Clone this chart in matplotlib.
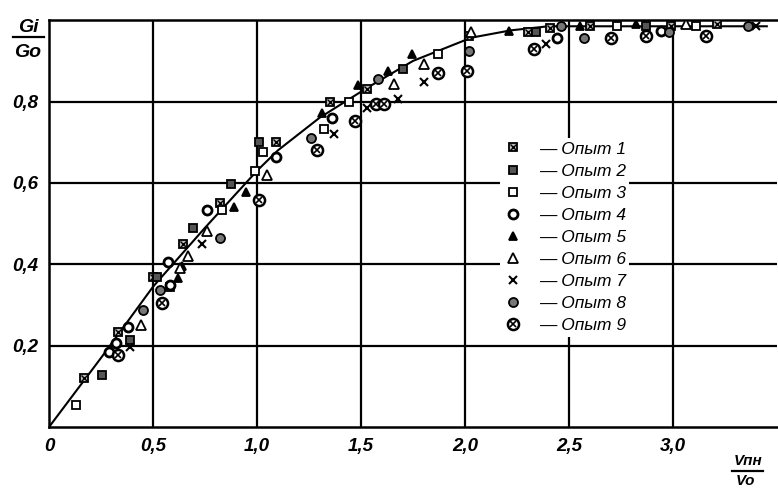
import matplotlib
matplotlib.use("Agg")
import matplotlib.pyplot as plt
from matplotlib.lines import Line2D

# Averaged curve G_i/G_0 versus V_пн/V_0
curve_x = [0.0, 0.25, 0.5, 0.75, 1.0, 1.1, 1.3, 1.53, 1.75, 2.03, 2.22, 2.4, 3.45]
curve_y = [0.0, 0.17, 0.345, 0.49, 0.63, 0.68, 0.76, 0.834, 0.90, 0.957, 0.975, 0.985, 0.985]

# Experimental series (Опыт 1 ... Опыт 9)
x1 = [0.17, 0.33, 0.50, 0.645, 0.82, 1.09, 1.35, 1.53, 2.02, 2.30, 2.41, 2.60, 2.99, 3.21]
y1 = [0.12, 0.233, 0.368, 0.45, 0.55, 0.70, 0.80, 0.832, 0.962, 0.97, 0.98, 0.986, 0.986, 0.99]

x2 = [0.255, 0.39, 0.52, 0.69, 0.875, 1.01, 1.70, 2.34, 2.87]
y2 = [0.128, 0.215, 0.368, 0.488, 0.597, 0.70, 0.88, 0.97, 0.986]

x3 = [0.13, 0.58, 0.83, 0.99, 1.03, 1.32, 1.44, 1.87, 2.73, 3.11]
y3 = [0.054, 0.343, 0.533, 0.63, 0.675, 0.733, 0.80, 0.918, 0.986, 0.986]

x4 = [0.29, 0.32, 0.38, 0.57, 0.58, 0.76, 1.09, 1.36, 2.44, 2.94]
y4 = [0.184, 0.206, 0.245, 0.405, 0.348, 0.533, 0.663, 0.76, 0.957, 0.974]

x5 = [0.62, 0.64, 0.89, 0.945, 1.31, 1.485, 1.63, 1.745, 2.21, 2.55, 2.82]
y5 = [0.366, 0.397, 0.54, 0.577, 0.773, 0.84, 0.876, 0.918, 0.974, 0.986, 0.99]

x6 = [0.44, 0.63, 0.67, 0.76, 1.05, 1.66, 1.80, 2.03, 3.06]
y6 = [0.25, 0.39, 0.42, 0.483, 0.62, 0.844, 0.893, 0.97, 0.99]

x7 = [0.39, 0.735, 1.37, 1.53, 1.675, 1.80, 2.39, 3.40]
y7 = [0.196, 0.45, 0.72, 0.785, 0.807, 0.847, 0.942, 0.986]

x8 = [0.45, 0.535, 0.82, 1.26, 1.58, 2.02, 2.46, 2.57, 2.98, 3.36]
y8 = [0.287, 0.336, 0.464, 0.71, 0.856, 0.925, 0.986, 0.957, 0.97, 0.986]

x9 = [0.33, 0.545, 1.01, 1.29, 1.47, 1.57, 1.61, 1.87, 2.01, 2.33, 2.70, 2.87, 3.16]
y9 = [0.177, 0.304, 0.557, 0.68, 0.753, 0.795, 0.795, 0.869, 0.876, 0.93, 0.955, 0.962, 0.962]

series_names = ["Опыт 1", "Опыт 2", "Опыт 3", "Опыт 4", "Опыт 5",
                "Опыт 6", "Опыт 7", "Опыт 8", "Опыт 9"]

x_ticks = [0, 0.5, 1.0, 1.5, 2.0, 2.5, 3.0]
x_tick_labels = ["0", "0,5", "1,0", "1,5", "2,0", "2,5", "3,0"]
y_ticks = [0.2, 0.4, 0.6, 0.8]
y_tick_labels = ["0,2", "0,4", "0,6", "0,8"]

FONT = ["Liberation Sans Narrow", "Liberation Sans", "DejaVu Sans"]
plt.rcParams["font.family"] = FONT

fig = plt.figure(figsize=(7.78, 4.92), dpi=100)
ax = fig.add_axes([0.063, 0.132, 0.936, 0.827])
ax.set_xlim(0, 3.5)
ax.set_ylim(0, 1.0)

# grid and frame
for xv in x_ticks[1:]:
    ax.axvline(xv, color="black", lw=1.6, zorder=1)
for yv in y_ticks:
    ax.axhline(yv, color="black", lw=1.6, zorder=1)
for side in ("left", "bottom", "top"):
    ax.spines[side].set_linewidth(1.8)
ax.spines["right"].set_visible(False)

ax.plot(curve_x, curve_y, color="black", lw=1.5, zorder=2)

ms = 6
def style(marker, face, size=ms, mew=1.3):
    return dict(marker=marker, markersize=size, markerfacecolor=face,
                markeredgecolor="black", markeredgewidth=mew,
                linestyle="none", zorder=3)

s_box = style("s", "#bbbbbb")
s_boxx = style("x", "none", size=4.2, mew=1.0)
s_fsq = style("s", "#555555")
s_osq = style("s", "white")
s_oc = style("o", "white", size=6.5, mew=2.0)
s_ftri = style("^", "black")
s_otri = style("^", "white", size=6.5)
s_x = style("x", "none", size=6, mew=1.5)
s_fc = style("o", "#777777", size=6.5)
s_ocx = style("o", "white", size=8, mew=1.8)
s_ocxx = style("x", "none", size=4.6, mew=1.2)

ax.plot(x1, y1, **s_box); ax.plot(x1, y1, **s_boxx)
ax.plot(x2, y2, **s_fsq)
ax.plot(x3, y3, **s_osq)
ax.plot(x4, y4, **s_oc)
ax.plot(x5, y5, **s_ftri)
ax.plot(x6, y6, **s_otri)
ax.plot(x7, y7, **s_x)
ax.plot(x8, y8, **s_fc)
ax.plot(x9, y9, **s_ocx); ax.plot(x9, y9, **s_ocxx)

def h(*styles):
    lines = tuple(Line2D([], [], **s) for s in styles)
    return lines if len(lines) > 1 else lines[0]

handles = [h(s_box, s_boxx), h(s_fsq), h(s_osq), h(s_oc), h(s_ftri),
           h(s_otri), h(s_x), h(s_fc), h(s_ocx, s_ocxx)]
labels = ["— " + n for n in series_names]
leg = ax.legend(handles, labels, loc="upper left", bbox_to_anchor=(0.608, 0.732),
                frameon=True, facecolor="white", edgecolor="none", framealpha=1,
                handlelength=1.0, handletextpad=1.0, labelspacing=0.4,
                borderpad=0.2, prop=dict(family=FONT, style="italic", size=12.5))
leg.set_zorder(5)

ax.set_xticks(x_ticks)
ax.set_xticklabels(x_tick_labels)
ax.set_yticks(y_ticks)
ax.set_yticklabels(y_tick_labels)
ax.tick_params(length=0, pad=8)
for lab in ax.get_xticklabels() + ax.get_yticklabels():
    lab.set_fontstyle("italic")
    lab.set_fontweight("bold")
    lab.set_fontsize(13.5)
    lab.set_family(FONT)

# axis names as fractions
tp = dict(family=FONT, style="italic", weight="bold", ha="center", va="center")
fig.text(0.036, 0.944, "Gi", fontsize=14, **tp)
fig.text(0.036, 0.893, "Gо", fontsize=14, **tp)
fig.add_artist(Line2D([0.017, 0.057], [0.925, 0.925], color="black", lw=1.6,
                      transform=fig.transFigure))
fig.text(0.962, 0.063, "Vпн", fontsize=11, **tp)
fig.text(0.958, 0.022, "Vо", fontsize=11, **tp)
fig.add_artist(Line2D([0.941, 0.981], [0.042, 0.042], color="black", lw=1.6,
                      transform=fig.transFigure))

fig.savefig("out.png", dpi=100)
